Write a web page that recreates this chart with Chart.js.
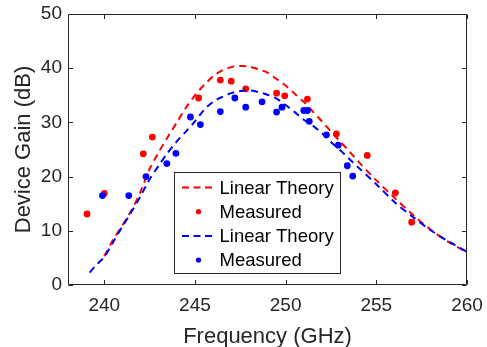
<!DOCTYPE html>
<html>
<head>
<meta charset="utf-8">
<script src="https://cdn.jsdelivr.net/npm/chart.js@4.4.0/dist/chart.umd.min.js"></script>
<style>
html,body{margin:0;padding:0;background:#fff;}
#wrap{width:487px;height:347px;position:relative;}
</style>
</head>
<body>
<div id="wrap"><canvas id="c" width="487" height="347"></canvas></div>
<script>
const xTicks = [240, 245, 250, 255, 260];
const yTicks = [0, 10, 20, 30, 40, 50];

const redTheory = [
  [240.0,5.3],[240.5,8.4],[241.0,11.0],[241.5,13.8],[242.0,17.2],[242.5,21.4],[243.0,24.5],
  [243.5,27.3],[244.0,30.0],[244.5,32.7],[245.0,35.0],[245.5,36.9],[246.0,38.5],[246.5,39.6],
  [247.0,40.2],[247.5,40.4],[248.0,40.3],[248.5,39.8],[249.0,39.2],[249.5,38.0],[250.0,36.8],
  [250.5,35.3],[251.0,33.8],[251.5,32.0],[252.0,30.2],[252.5,28.3],[253.0,26.5],[253.5,24.7],
  [254.0,22.8],[255.0,19.3],[256.0,16.1],[257.0,13.0],[258.0,10.2],[259.0,7.9],[260.0,6.0]
];
const redMeasured = [
  [239.05,13.1],[240.0,16.9],[242.15,24.2],[242.65,27.3],[245.2,34.5],[246.4,37.8],[247.0,37.6],
  [247.8,36.2],[249.5,35.4],[249.95,34.9],[251.2,34.3],[252.8,27.9],[254.5,23.9],[256.05,17.0],
  [256.95,11.6]
];
const blueTheory = [
  [239.2,2.3],[239.5,3.5],[240.0,5.2],[240.5,8.0],[241.0,10.8],[241.5,13.5],[242.0,16.4],
  [242.5,19.5],[243.0,22.0],[243.5,24.4],[244.0,26.5],[244.5,28.3],[245.0,30.2],[245.5,32.3],
  [246.0,33.8],[246.5,34.7],[247.0,35.4],[247.5,35.8],[248.0,35.9],[248.5,35.6],[249.0,35.1],
  [249.5,34.4],[250.0,33.2],[250.5,31.9],[251.0,30.5],[251.5,29.4],[252.0,28.0],[252.5,26.4],
  [253.0,24.9],[253.5,23.3],[254.0,21.7],[255.0,18.6],[256.0,15.3],[257.0,12.6],[258.0,10.1],
  [259.0,8.0],[260.0,6.1]
];
const blueMeasured = [
  [239.9,16.5],[241.35,16.5],[242.3,20.0],[243.45,22.4],[243.95,24.3],[244.75,31.0],[245.3,29.6],
  [246.4,32.0],[247.2,34.5],[247.8,32.8],[248.7,33.8],[249.5,31.9],[249.8,32.8],[251.0,32.2],
  [251.2,32.2],[251.3,30.2],[252.25,27.7],[252.9,25.8],[253.4,22.0],[253.7,20.1]
];
const labels = ['Linear Theory', 'Measured', 'Linear Theory', 'Measured'];

const FONT = "'Liberation Sans', Arial, Helvetica, sans-serif";
const AX = '#262626';
const toPts = a => a.map(p => ({x: p[0], y: p[1]}));

const framePlugin = {
  id: 'frame',
  afterDraw(chart) {
    const ctx = chart.ctx, a = chart.chartArea;
    const xs = chart.scales.x, ys = chart.scales.y;
    ctx.save();
    ctx.strokeStyle = AX;
    ctx.lineWidth = 1;
    const L = Math.round(a.left) + 0.5, R = Math.round(a.right) - 0.5;
    const T = Math.round(a.top) + 0.5, B = Math.round(a.bottom) - 0.5;
    ctx.beginPath();
    ctx.rect(L, T, R - L, B - T);
    const tl = 4.5;
    xTicks.forEach(v => {
      const px = Math.round(xs.getPixelForValue(v)) + 0.5;
      ctx.moveTo(px, B); ctx.lineTo(px, B - tl);
      ctx.moveTo(px, T); ctx.lineTo(px, T + tl);
    });
    yTicks.forEach(v => {
      const py = Math.round(ys.getPixelForValue(v)) + 0.5;
      ctx.moveTo(L, py); ctx.lineTo(L + tl, py);
      ctx.moveTo(R, py); ctx.lineTo(R - tl, py);
    });
    ctx.stroke();

    // legend box
    const bx = 174.5, by = 172.5, bw = 166, bh = 101;
    ctx.fillStyle = '#fff';
    ctx.fillRect(bx, by, bw, bh);
    ctx.strokeStyle = AX;
    ctx.strokeRect(bx, by, bw, bh);
    const ds = chart.data.datasets;
    ctx.font = '18.5px ' + FONT;
    ctx.textBaseline = 'middle';
    ctx.textAlign = 'left';
    for (let i = 0; i < ds.length; i++) {
      const cy = 187.5 + i * 24.2;
      const d = ds[i];
      if (d.showLine) {
        ctx.strokeStyle = d.borderColor;
        ctx.lineWidth = 2;
        ctx.setLineDash([7, 4.5]);
        ctx.beginPath();
        ctx.moveTo(182, cy); ctx.lineTo(216, cy);
        ctx.stroke();
        ctx.setLineDash([]);
      } else {
        ctx.fillStyle = d.backgroundColor;
        ctx.beginPath();
        ctx.arc(198.5, cy, 2.6, 0, Math.PI * 2);
        ctx.fill();
      }
      ctx.fillStyle = '#000';
      ctx.fillText(d.label, 219.5, cy + 1);
    }
    ctx.restore();
  }
};

new Chart(document.getElementById('c'), {
  type: 'scatter',
  data: {
    datasets: [
      {label: labels[0], data: toPts(redTheory), showLine: true, borderColor: '#ff0000', backgroundColor: '#ff0000',
       borderWidth: 2, borderDash: [7, 5], pointRadius: 0, tension: 0.3, order: 3},
      {label: labels[1], data: toPts(redMeasured), showLine: false, borderColor: '#ff0000', backgroundColor: '#ff0000',
       pointRadius: 3.4, pointBorderWidth: 0, order: 2},
      {label: labels[2], data: toPts(blueTheory), showLine: true, borderColor: '#0000ff', backgroundColor: '#0000ff',
       borderWidth: 2, borderDash: [7, 5], pointRadius: 0, tension: 0.3, order: 1},
      {label: labels[3], data: toPts(blueMeasured), showLine: false, borderColor: '#0000ff', backgroundColor: '#0000ff',
       pointRadius: 3.4, pointBorderWidth: 0, order: 0}
    ]
  },
  options: {
    responsive: false,
    animation: false,
    devicePixelRatio: 1,
    layout: {padding: {left: 0, right: 20, top: 14, bottom: 0}},
    plugins: {legend: {display: false}, tooltip: {enabled: false}},
    scales: {
      x: {
        type: 'linear', min: 238, max: 260,
        afterBuildTicks: s => { s.ticks = xTicks.map(v => ({value: v})); },
        afterFit: s => { s.height = 62; s.paddingLeft = 0; s.paddingRight = 0; },
        grid: {display: false, drawTicks: false},
        border: {display: false},
        ticks: {color: AX, font: {family: FONT, size: 19}, padding: 9, maxRotation: 0},
        title: {display: true, text: 'Frequency (GHz)', color: AX, font: {family: FONT, size: 22, lineHeight: 0.95}, padding: {top: 0, bottom: 0}}
      },
      y: {
        type: 'linear', min: 0, max: 50,
        afterBuildTicks: s => { s.ticks = yTicks.map(v => ({value: v})); },
        afterFit: s => { s.width = 68; s.paddingTop = 0; s.paddingBottom = 0; },
        grid: {display: false, drawTicks: false},
        border: {display: false},
        ticks: {color: AX, font: {family: FONT, size: 19}, padding: 6},
        title: {display: true, text: 'Device Gain (dB)', color: AX, font: {family: FONT, size: 22}, padding: {top: 11, bottom: 0}}
      }
    }
  },
  plugins: [framePlugin]
});
</script>
</body>
</html>
